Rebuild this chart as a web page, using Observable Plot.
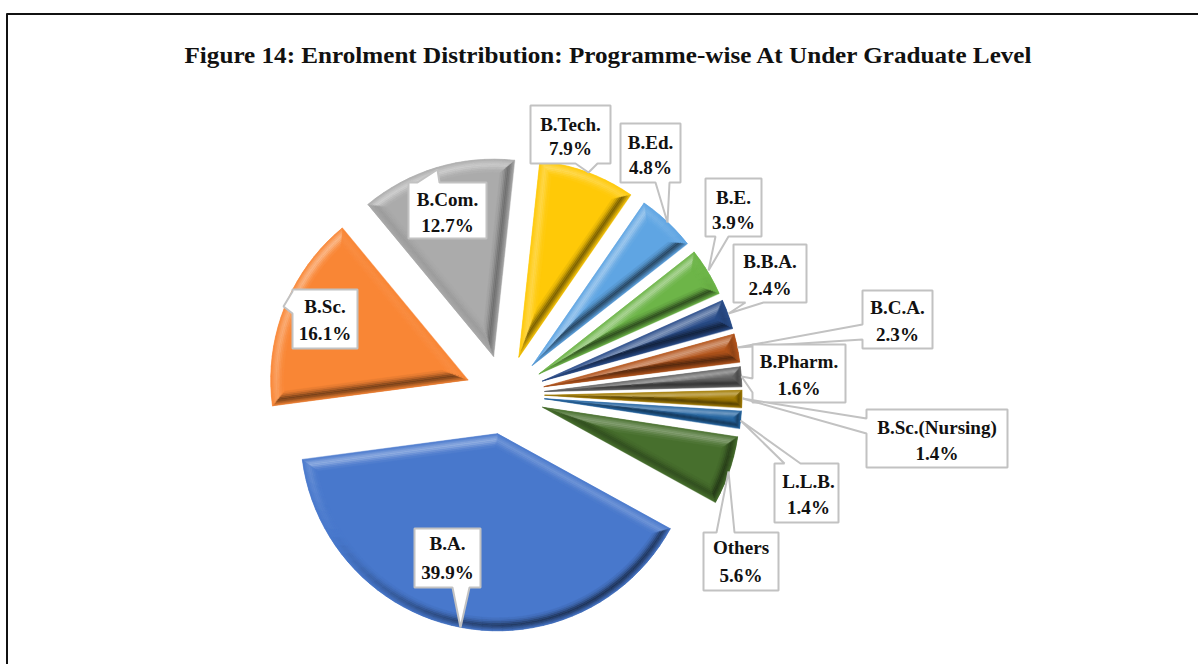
<!DOCTYPE html>
<html>
<head>
<meta charset="utf-8">
<style>html,body{margin:0;padding:0;background:#fff}svg{display:block;max-width:none}</style>
<script src="https://cdn.jsdelivr.net/npm/d3@7"></script>
<script src="https://cdn.jsdelivr.net/npm/@observablehq/plot@0.6"></script>
</head>
<body>
<script>
const titleText = "Figure 14: Enrolment Distribution: Programme-wise At Under Graduate Level";
const programmes = ["B.A.","B.Sc.","B.Com.","B.Tech.","B.Ed.","B.E.","B.B.A.","B.C.A.","B.Pharm.","B.Sc.(Nursing)","L.L.B.","Others"];
const shares = [39.9,16.1,12.7,7.9,4.8,3.9,2.4,2.3,1.6,1.4,1.4,5.6];
const colours = ["#4878CC","#F98635","#ABABAB","#FFC907","#5FA5E3","#6DB548","#2A4D8A","#B4551C","#666666","#A37C04","#2767A3","#476F2D"];

// layout of the pie and its callouts (pixels of the 1198x664 picture)
const pie = {cx:504.5, cy:394, radius:197, explode:40, startDeg:118.8, bevel:13};
const boxes = [[414,528,480,587],[292,289,357,348],[408,182,486,238],[530,105,610,163],[620,123,680,182],[705,178,761,236],[733,244,806,302],[862,290,932,348],[752,344,845,402],[866,409,1007,467],[774,463,838,522],[703,532,778,590]];
const tips = [[460,627],[283,306],[437,169],[588,172],[667,222],[708,270],[728,313],[737,347],[741,376],[742,398],[740,420],[728,471]];
const wedgeSides = ["b","l","t","b","b","b","b","l","l","l","t","t"];
const wedgeBases = [[452,469],[291,313],[417,439],[575,597],[655,669],[715,728],[745,763],[324,339],[378,392],[418,433],[784,800],[716,734]];
const firstLine = [16,18,18,20,20,20,18,18,18,19,19,16];
const secondLine = [44.5,44,43,43,44,44,44,44,44,44,44,43];
const textShift = [0,0,0,0,0,0,0,0,0,0,2,0];

// ---- slices -------------------------------------------------------------
const arcs = d3.pie().sort(null).value(d => d)
  .startAngle(pie.startDeg*Math.PI/180).endAngle((pie.startDeg+360)*Math.PI/180)(shares);
const light = [-0.52,-0.85];
const profile = [0.2,0.5,0.8,1,0.85,0.55,0.3,0.12];
function shaded(base,n,t){
  const s = n[0]*light[0]+n[1]*light[1];
  return s>0 ? d3.interpolateRgb(base,"#ffffff")(s*0.42*t) : d3.interpolateRgb(base,"#000000")(-s*0.56*t);
}
const pol = (o,a,r) => [o[0]+r*Math.sin(a), o[1]-r*Math.cos(a)];
const sliceRows = [];
let pid = 0;
function poly(points,color){ const id=pid++; for(const p of points) sliceRows.push({id,x:p[0],y:p[1],color}); }
arcs.forEach((arc,k)=>{
  const a0=arc.startAngle,a1=arc.endAngle,mid=(a0+a1)/2,h=(a1-a0)/2,r=pie.radius;
  const o=pol([pie.cx,pie.cy],mid,pie.explode);
  const sh=Math.sin(h);
  const wMax=r*sh/(1+sh);
  const W=Math.min(pie.bevel,wMax*0.93);
  const geom=w=>{
    const apex=pol(o,mid,w/sh);
    const da=Math.asin(Math.min(1,w/(r-w)));
    return {apex,r:r-w,a0:a0+da,a1:a1-da};
  };
  const n=Math.max(2,Math.ceil((a1-a0)/(3*Math.PI/180)));
  const arcPts=g=>d3.range(n+1).map(i=>pol(o,g.a0+(g.a1-g.a0)*i/n,g.r));
  const outer=geom(0);
  poly([outer.apex,...arcPts(outer)],colours[k]);
  const rings=profile.length;
  for(let j=0;j<rings;j++){
    const gA=geom(W*j/rings), gB=geom(W*(j+1)/rings);
    const pA=arcPts(gA), pB=arcPts(gB), t=profile[j];
    const nEdge0=[-Math.cos(a0),-Math.sin(a0)];
    const nEdge1=[Math.cos(a1),Math.sin(a1)];
    poly([gA.apex,pA[0],pB[0],gB.apex],shaded(colours[k],nEdge0,t));
    poly([gA.apex,pA[n],pB[n],gB.apex],shaded(colours[k],nEdge1,t));
    for(let i=0;i<n;i++){
      const am=gA.a0+(gA.a1-gA.a0)*(i+0.5)/n;
      poly([pA[i],pA[i+1],pB[i+1],pB[i]],shaded(colours[k],[Math.sin(am),-Math.cos(am)],t));
    }
  }
});

// ---- callouts -----------------------------------------------------------
const calloutRows = [];
boxes.forEach(([x0,y0,x1,y1],k)=>{
  const side=wedgeSides[k],[b0,b1]=wedgeBases[k],tip=tips[k];
  let pts;
  if(side==="t") pts=[[x0,y0],[b0,y0],tip,[b1,y0],[x1,y0],[x1,y1],[x0,y1]];
  if(side==="b") pts=[[x0,y0],[x1,y0],[x1,y1],[b1,y1],tip,[b0,y1],[x0,y1]];
  if(side==="l") pts=[[x0,y0],[x1,y0],[x1,y1],[x0,y1],[x0,b1],tip,[x0,b0]];
  pts.forEach(p=>calloutRows.push({k,x:p[0],y:p[1]}));
});
const labelRows = programmes.map((name,k)=>({
  name, pct:shares[k].toFixed(1)+"%",
  x:(boxes[k][0]+boxes[k][2])/2+textShift[k],
  y1:boxes[k][1]+firstLine[k], y2:boxes[k][1]+secondLine[k]+0.5
}));
const calloutMark = k => Plot.line(calloutRows.filter(d=>d.k===k),{x:"x",y:"y",curve:"linear-closed",fill:"#ffffff",stroke:"#c2c2c2",strokeWidth:2,strokeLinejoin:"miter"});

const serif = "Liberation Serif";
const chart = Plot.plot({
  width:1198,height:664,margin:0,
  x:{domain:[0,1198],range:[0,1198],axis:null},
  y:{domain:[0,664],range:[0,664],axis:null},
  color:{type:"identity"},
  style:{background:"#fff"},
  marks:[
    Plot.line([{x:6.5,y:664},{x:6.5,y:13.5},{x:1198,y:13.5}],{x:"x",y:"y",stroke:"#111",strokeWidth:2}),
    Plot.line(sliceRows,{x:"x",y:"y",z:"id",fill:"color",stroke:"color",strokeWidth:0.4,curve:"linear-closed"}),
    ...programmes.map((_,k)=>calloutMark(k)),
    Plot.text(labelRows,{x:"x",y:"y1",text:"name",fontFamily:serif,fontWeight:"bold",fontSize:18.5,fill:"#111",className:"lab"}),
    Plot.text(labelRows,{x:"x",y:"y2",text:"pct",fontFamily:serif,fontWeight:"bold",fontSize:18.5,fill:"#111",className:"lab"}),
    Plot.text([titleText],{x:()=>607.5,y:()=>55,text:d=>d,fontFamily:serif,fontWeight:"bold",fontSize:23.5,fill:"#111",className:"ttl"})
  ]
});
document.body.appendChild(chart);
// Palatino-like widths: stretch the serif face to the reference's set width
d3.select(chart).selectAll(".lab text").each(function(){
  const l=this.getComputedTextLength();
  this.setAttribute("textLength",l*1.03);this.setAttribute("lengthAdjust","spacingAndGlyphs");
});
d3.select(chart).selectAll(".ttl text").each(function(){
  this.setAttribute("textLength",847);this.setAttribute("lengthAdjust","spacingAndGlyphs");
});
</script>
</body>
</html>
